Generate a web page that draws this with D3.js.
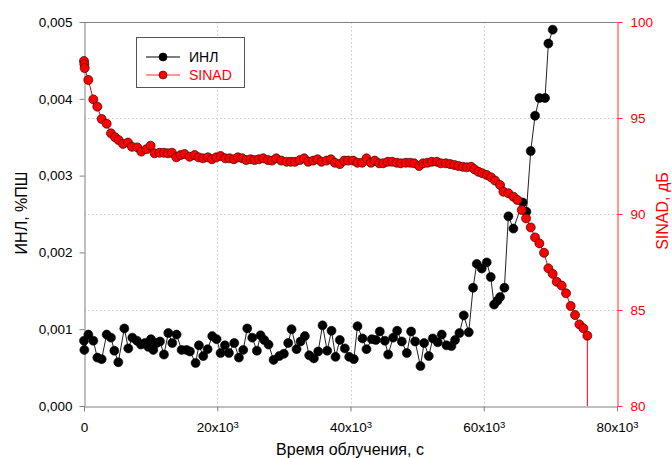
<!DOCTYPE html>
<html><head><meta charset="utf-8">
<script src="https://cdn.jsdelivr.net/npm/d3@7"></script>
<style>
body{margin:0;background:#fff;}
svg{display:block;font-family:"Liberation Sans",Arial,sans-serif;}
</style></head>
<body><svg id="c" width="672" height="458"></svg>
<script>
// ---- data ----
const inlTime = [0,50,650,1400,2000,2650,3400,4050,4550,5150,6050,6650,7250,7950,8550,9150,9650,10050,10400,10900,11400,12000,12650,13250,13900,14650,15400,15900,16750,17250,17900,18550,19250,19900,20500,21150,21750,22550,23250,23900,24500,25250,25950,26500,27050,27700,28450,29300,30000,30650,31150,31900,32500,33150,33800,34500,35150,35800,36500,37150,37750,38400,39150,39800,40500,41050,41800,42400,43200,43800,44400,45150,45650,46400,47000,47700,48450,49100,49700,50500,51050,51750,52350,53100,53700,54400,55150,55700,56350,57000,57750,58400,58950,59700,60450,61050,61550,62050,62450,63100,63700,64450,65850,66400,67050,67700,68350,69200,69700,70350];
const inlValue = [0.00085,0.00073,0.00093,0.00085,0.00063,0.00061,0.00093,0.00089,0.00072,0.00057,0.00101,0.00075,0.00089,0.00085,0.00080,0.00082,0.00077,0.00087,0.00073,0.00082,0.00084,0.00067,0.00095,0.00082,0.00093,0.00073,0.00073,0.00071,0.00056,0.00079,0.00065,0.00074,0.00091,0.00087,0.00069,0.00079,0.00069,0.00082,0.00063,0.00073,0.00101,0.00089,0.00072,0.00092,0.00086,0.00080,0.00060,0.00065,0.00068,0.00082,0.00100,0.00074,0.00084,0.00091,0.00066,0.00062,0.00071,0.00105,0.00072,0.00098,0.00064,0.00086,0.00075,0.00064,0.00061,0.00104,0.00088,0.00074,0.00087,0.00086,0.00097,0.00085,0.00067,0.00089,0.00098,0.00084,0.00069,0.00097,0.00084,0.00052,0.00082,0.00065,0.00088,0.00083,0.00093,0.00079,0.00078,0.00086,0.00095,0.00118,0.00096,0.00154,0.00185,0.00179,0.00187,0.00168,0.00132,0.00137,0.00142,0.00154,0.00247,0.00231,0.00265,0.00253,0.00332,0.00378,0.00401,0.00401,0.00472,0.00490];

const sinadTime = [0,50,100,650,1400,2000,2650,3400,4050,4650,5200,5850,6600,7200,8000,8600,9350,10000,10600,11350,12000,12600,13200,13850,14500,15100,15850,16600,17200,17850,18600,19200,19850,20500,21200,21850,22500,23100,23750,24350,25000,25600,26250,26900,27600,28200,28850,29600,30400,31050,31650,32400,33050,33650,34400,35050,35650,36400,37050,37650,38400,39050,39650,40400,41050,41750,42400,43050,43650,44300,44900,45600,46250,46950,47550,48300,48950,49550,50300,50900,51550,52200,52950,53550,54300,54950,55600,56200,56850,57450,58100,58600,59200,59800,60450,61100,61700,62450,62950,63700,64450,65050,65700,66350,67050,67700,68350,69050,69700,70350,70950,71700,72350,73050,73700,74350,74950,75550];
const sinadValue = [97.97,97.8,97.6,96.98,95.97,95.59,94.95,94.7,94.2,94.0,93.85,93.65,93.72,93.5,93.47,93.25,93.37,93.56,93.16,93.19,93.19,93.16,93.19,92.95,93.07,93.12,92.98,93.07,92.95,92.9,92.95,92.85,92.95,93.02,92.9,92.9,92.85,92.95,92.9,92.81,92.85,92.81,92.85,92.9,92.81,92.78,92.9,92.78,92.72,92.72,92.72,92.81,92.9,92.72,92.78,92.85,92.72,92.78,92.85,92.67,92.6,92.78,92.78,92.78,92.67,92.67,92.9,92.67,92.78,92.64,92.64,92.72,92.72,92.67,92.64,92.67,92.67,92.64,92.5,92.64,92.67,92.72,92.72,92.64,92.64,92.6,92.55,92.5,92.46,92.43,92.46,92.33,92.2,92.12,92.03,91.91,91.74,91.51,91.16,91.08,90.9,90.73,90.21,89.77,89.3,88.78,88.47,87.98,87.17,86.88,86.47,86.27,85.87,85.21,84.74,84.25,84.05,83.66];
const sinadEndValue = 80; // series line drops to this value after the last point

const xTicks = [0,20000,40000,60000,80000];
const xTickBase = ["0","20x10","40x10","60x10","80x10"];
const xTickSup = ["","3","3","3","3"];
const yLeftTicks = [0,0.001,0.002,0.003,0.004,0.005];
const yRightTicks = [80,85,90,95,100];
const gridRight = [85,90,95];
const gridX = [20000,40000,60000];
const seriesNames = ["ИНЛ","SINAD"];
const xTitle = "Время облучения, с";
const yLeftTitle = "ИНЛ, %ПШ";
const yRightTitle = "SINAD, дБ";

// ---- layout ----
const L=84,R=617,T=22,B=406;
const RED="#ff0000", GRAY="#808080";
const svg = d3.select("#c");
const x = d3.scaleLinear().domain([0,80000]).range([L,R]);
const yL = d3.scaleLinear().domain([0,0.005]).range([B,T]);
const yR = d3.scaleLinear().domain([80,100]).range([B,T]);

// grid
const grid = svg.append("g").attr("stroke","#c8c8c8").attr("stroke-dasharray","1.5,2.5").attr("stroke-width",1);
grid.selectAll("line.h").data(gridRight).join("line").attr("class","h")
  .attr("x1",L).attr("x2",R).attr("y1",d=>Math.round(yR(d))+0.5).attr("y2",d=>Math.round(yR(d))+0.5);
grid.selectAll("line.v").data(gridX).join("line").attr("class","v")
  .attr("y1",T).attr("y2",B).attr("x1",d=>Math.round(x(d))+0.5).attr("x2",d=>Math.round(x(d))+0.5);

// top frame
svg.append("line").attr("x1",L).attr("x2",R).attr("y1",T+0.5).attr("y2",T+0.5).attr("stroke",GRAY);

// axes
const fmtL = d=>d3.format(".3f")(d).replace(".",",");
const gL = svg.append("g").attr("transform",`translate(${L+0.5},0)`)
  .call(d3.axisLeft(yL).tickValues(yLeftTicks).tickSize(5).tickSizeOuter(0).tickPadding(7).tickFormat(fmtL));
gL.select(".domain").attr("stroke",GRAY);
gL.selectAll(".tick line").attr("stroke",GRAY);
gL.selectAll("text").attr("font-size",13.5).attr("fill","#000").attr("font-family","Liberation Sans, Arial, sans-serif");

const gB = svg.append("g").attr("transform",`translate(0,${B+0.5})`)
  .call(d3.axisBottom(x).tickValues(xTicks).tickSize(5).tickSizeOuter(0).tickPadding(11).tickFormat(""));
gB.select(".domain").attr("stroke",GRAY);
gB.selectAll(".tick line").attr("stroke",GRAY);
gB.selectAll(".tick text").each(function(d,i){
  const t=d3.select(this).attr("font-size",13.5).attr("fill","#000").attr("font-family","Liberation Sans, Arial, sans-serif");
  t.text(null);
  t.append("tspan").text(xTickBase[i]);
  if(xTickSup[i]) t.append("tspan").attr("font-size",9.5).attr("dy","-0.45em").text(xTickSup[i]);
});

const gR = svg.append("g").attr("transform",`translate(${R+0.5},0)`)
  .call(d3.axisRight(yR).tickValues(yRightTicks).tickSize(5).tickSizeOuter(0).tickPadding(8));
gR.select(".domain").attr("stroke","#ff3030");
gR.selectAll(".tick line").attr("stroke","#ff3030");
gR.selectAll("text").attr("font-size",13.5).attr("fill",RED).attr("font-family","Liberation Sans, Arial, sans-serif");

// titles
svg.append("text").attr("x",350).attr("y",455).attr("text-anchor","middle").attr("font-size",16).text(xTitle);
svg.append("text").attr("transform","translate(27,213) rotate(-90)").attr("text-anchor","middle").attr("font-size",16).text(yLeftTitle);
svg.append("text").attr("transform","translate(668,211) rotate(-90)").attr("text-anchor","middle").attr("font-size",16).attr("fill",RED).text(yRightTitle);

// series
const inl = inlTime.map((t,i)=>({t,v:inlValue[i]}));
const sinad = sinadTime.map((t,i)=>({t,v:sinadValue[i]}));
const sinadLineData = sinad.concat([{t:sinadTime[sinadTime.length-1], v:sinadEndValue}]);

svg.append("path").datum(inl).attr("fill","none").attr("stroke","#222").attr("stroke-width",1)
  .attr("d",d3.line().x(d=>x(d.t)).y(d=>yL(d.v)));
svg.append("g").selectAll("circle").data(inl).join("circle")
  .attr("cx",d=>x(d.t)).attr("cy",d=>yL(d.v)).attr("r",4.5).attr("fill","#000").attr("stroke","#000").attr("stroke-width",0.6);

svg.append("path").datum(sinadLineData).attr("fill","none").attr("stroke",RED).attr("stroke-width",1)
  .attr("d",d3.line().x(d=>x(d.t)).y(d=>yR(d.v)));
svg.append("g").selectAll("circle").data(sinad).join("circle")
  .attr("cx",d=>x(d.t)).attr("cy",d=>yR(d.v)).attr("r",4.5).attr("fill",RED).attr("stroke","#3a0000").attr("stroke-width",0.7);

// legend
const lg = svg.append("g");
lg.append("rect").attr("x",136.5).attr("y",37.5).attr("width",108).attr("height",50).attr("fill","#fff").attr("stroke","#555");
const lcol = ["#000",RED];
seriesNames.forEach((n,i)=>{
  const yy = 57 + i*18;
  lg.append("line").attr("x1",146).attr("x2",180).attr("y1",yy).attr("y2",yy).attr("stroke",i? "#ff3030":"#000");
  lg.append("circle").attr("cx",163).attr("cy",yy).attr("r",4).attr("fill",lcol[i]).attr("stroke",i?"#3a0000":"#000").attr("stroke-width",0.6);
  lg.append("text").attr("x",189).attr("y",yy).attr("dy","0.35em").attr("font-size",14).attr("fill",lcol[i]).text(n);
});
</script>
</body></html>
